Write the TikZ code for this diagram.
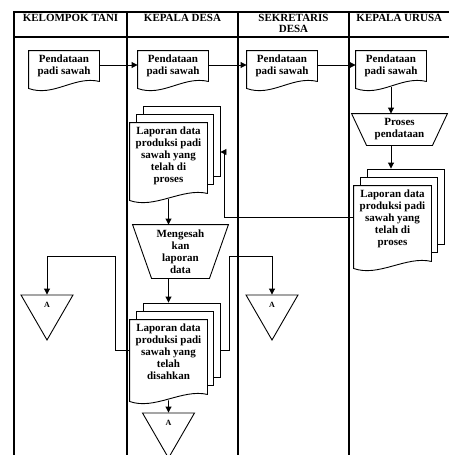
\documentclass[tikz,border=0pt]{standalone}
\usepackage{fontspec}
\setmainfont{Liberation Serif}
\usetikzlibrary{arrows.meta, shapes.geometric}
\begin{document}
\begin{tikzpicture}[x=1pt, y=-1pt, >={Triangle[length=6pt, width=6pt]}, line width=0.9pt]
    \tikzset{lane/.style={line width=1.3pt}}
    \tikzset{head/.style={anchor=north, inner sep=0pt, align=center, font=\fontsize{11}{11.5}\selectfont\bfseries}}
    \tikzset{doc/.style={minimum width=70pt, minimum height=36pt, inner sep=0pt}}
    \tikzset{page/.style={draw, fill=white, minimum width=77pt, anchor=north west, inner sep=0pt}}
    \tikzset{txt/.style={anchor=north, inner sep=3.5pt, align=center, font=\fontsize{11}{12}\selectfont\bfseries}}
    \tikzset{box/.style={inner sep=0pt, align=center, font=\fontsize{11}{12}\selectfont\bfseries}}
    \tikzset{conn/.style={draw, regular polygon, regular polygon sides=3, shape border rotate=180, minimum size=60pt, inner sep=0pt, text height=5.3pt, text depth=10pt, font=\fontsize{8}{8}\selectfont\bfseries}}
    \newcommand{\docshape}[1]{\draw[fill=white] (#1.north west) -- (#1.north east) -- ([shift={(0,-6)}]#1.south east) .. controls +(-25,-6) and +(25,9) .. ([shift={(0,1)}]#1.south west) -- cycle;}
    \newcommand{\trapshape}[2]{\draw (#1.north west) -- (#1.north east) -- ([xshift=-#2]#1.south east) -- ([xshift=#2]#1.south west) -- cycle;}
    \useasboundingbox (0,0) rectangle (449,455);
    % lanes
    \draw[lane] (449,12) -- (14,12) -- (14,455);
    \draw[lane] (14,37) -- (449,37);
    \foreach \x in {127, 238, 349} {
        \draw[lane] (\x,12) -- (\x,455);
    }
    \node[head] (h1) at (70.5,13.5) {KELOMPOK TANI};
    \node[head] (h2) at (182.5,13.5) {KEPALA DESA};
    \node[head] (h3) at (293.5,13.5) {SEKRETARIS\\DESA};
    \node[head, anchor=north west] (h4) at (356,13.5) {KEPALA URUSA};
    % pendataan
    \node[doc] (d1) at (64,69) {};
    \node[doc] (d2) at (173,69) {};
    \node[doc] (d3) at (282,69) {};
    \node[doc] (d4) at (391,69) {};
    \foreach \n in {d1, d2, d3, d4} {
        \docshape{\n}
        \node[txt] (\n t) at (\n.north) {Pendataan\\padi sawah};
    }
    \draw[->] ([yshift=4pt]d1.east) -- ([yshift=4pt]d2.west);
    \draw[->] ([yshift=4pt]d2.east) -- ([yshift=4pt]d3.west);
    \draw[->] ([yshift=4pt]d3.east) -- ([yshift=4pt]d4.west);
    % kepala urusan
    \node[box, minimum width=95pt, minimum height=31pt] (p1) at (399.5,129.5) {Proses\\pendataan};
    \trapshape{p1}{15pt}
    \draw[->] (d4.south) -- (d4.south |- p1.north);
    \node[doc, minimum width=77pt, minimum height=81pt] (m3) at (392.5,226.5) {};
    \node[page, minimum height=75pt] (m3c) at ([shift={(13,-17)}]m3.north west) {};
    \node[page, minimum height=75pt] (m3b) at ([shift={(6.5,-8.5)}]m3.north west) {};
    \docshape{m3}
    \node[txt] (m3t) at (m3.north) {Laporan data\\produksi padi\\sawah yang\\telah di\\proses};
    \draw[->] (d4.south |- p1.south) -- (d4.south |- m3c.north);
    % kepala desa
    \node[doc, minimum width=77pt, minimum height=76pt] (m1) at (168.5,161) {};
    \node[page, minimum height=70pt] (m1c) at ([shift={(13,-17)}]m1.north west) {};
    \node[page, minimum height=70pt] (m1b) at ([shift={(6.5,-8.5)}]m1.north west) {};
    \docshape{m1}
    \node[txt] (m1t) at (m1.north) {Laporan data\\produksi padi\\sawah yang\\telah di\\proses};
    \coordinate (j1) at (224,152);
    \draw[->] ([yshift=9.5pt]m3.west) -| (j1) -- (j1 -| m1c.east);
    \node[box, minimum width=95pt, minimum height=53pt] (p2) at (180.5,251.5) {Mengesah\\kan\\laporan\\data};
    \trapshape{p2}{19pt}
    \draw[->] (m1.south) -- (m1.south |- p2.north);
    \node[doc, minimum width=77pt, minimum height=80pt] (m2) at (168.5,360) {};
    \node[page, minimum height=74pt] (m2c) at ([shift={(13,-17)}]m2.north west) {};
    \node[page, minimum height=74pt] (m2b) at ([shift={(6.5,-8.5)}]m2.north west) {};
    \docshape{m2}
    \node[txt] (m2t) at (m2.north) {Laporan data\\produksi padi\\sawah yang\\telah\\disahkan};
    \draw[->] (m2.north |- p2.south) -- (m2.north |- m2c.north);
    % konektor A
    \node[conn] (a1) at (47,310) {A};
    \node[conn] (a2) at (272,310) {A};
    \node[conn] (a3) at (168.5,428) {A};
    \coordinate (m2y) at ([yshift=10pt]m2.west);
    \coordinate (j2) at (115,256);
    \coordinate (j3) at (229,256);
    \draw[->] (m2y) -| (j2) -| (a1.north);
    \draw[->] (m2c.east |- m2y) -| (j3) -| (a2.north);
    \draw[->] (m2.south) -- (a3.north);
\end{tikzpicture}
\end{document}
